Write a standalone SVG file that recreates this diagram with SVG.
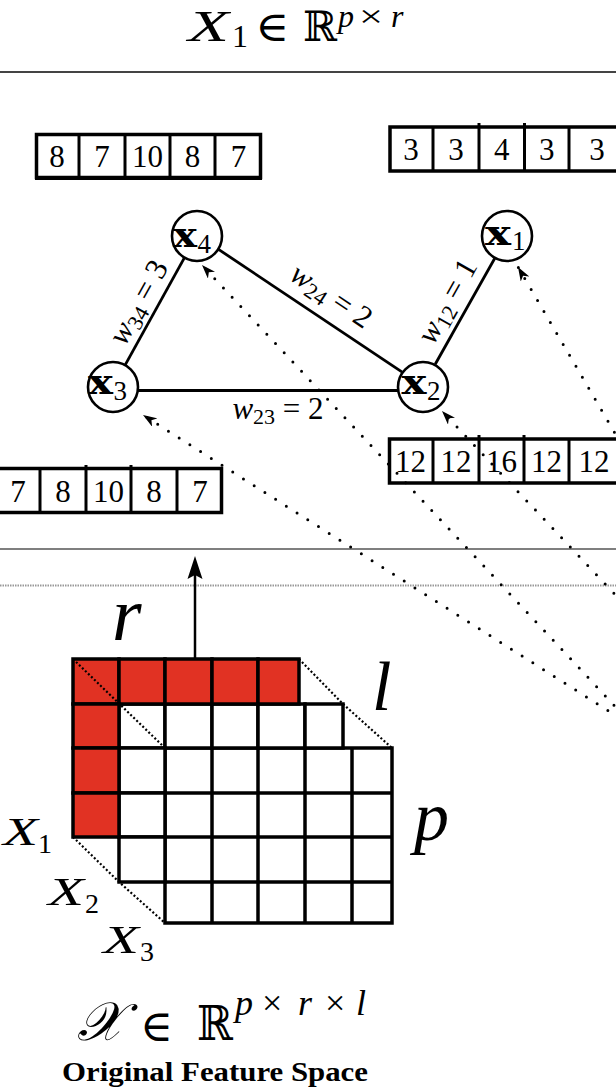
<svg xmlns="http://www.w3.org/2000/svg" width="616" height="1091" viewBox="0 0 616 1091">
<style>
text{font-family:"Liberation Serif","DejaVu Serif",serif;fill:#000}
.mi{font-style:italic}
.sym{font-family:"DejaVu Serif","Liberation Serif",serif}
.box{fill:#fff;stroke:#000;stroke-width:3.5}
.div{stroke:#000;stroke-width:3}
.num{font-size:31px;text-anchor:middle}
.node circle{fill:#fff;stroke:#000;stroke-width:2.6}
.nx{font-family:"DejaVu Serif",serif;font-weight:bold;font-size:34px}
.sub{font-family:"Liberation Serif",serif;font-size:27px}
.edge{stroke:#000;stroke-width:2.8;fill:none}
.dot{stroke:#000;stroke-width:3;stroke-linecap:round;stroke-dasharray:0 12.7;fill:none}
.wl{font-size:31px;text-anchor:middle}
.cell{stroke:#000;stroke-width:3.5}
.w{fill:#fff}
.r{fill:#e13223}
.tdot{stroke:#000;stroke-width:2.2;stroke-dasharray:2 2.2;fill:none}
</style>
<defs>
<marker id="ah" viewBox="0 0 14 10" refX="14" refY="5" markerWidth="14" markerHeight="10" markerUnits="userSpaceOnUse" orient="auto">
<path d="M0,0 L14,5 L0,10 L4,5 z" fill="#000"/>
</marker>
</defs>
<rect width="616" height="1091" fill="#fff"/>

<!-- title -->
<g id="title">
<text class="mi" x="188" y="41" font-size="45" textLength="41" lengthAdjust="spacingAndGlyphs">X</text>
<text x="232" y="47" font-size="32">1</text>
<text class="sym" x="255" y="41" font-size="42" textLength="34" lengthAdjust="spacingAndGlyphs">∈</text>
<text class="sym" x="303" y="41" font-size="42" textLength="34" lengthAdjust="spacingAndGlyphs">ℝ</text>
<text class="mi" x="338" y="27" font-size="32">p</text>
<text x="359" y="27" font-size="32" textLength="24" lengthAdjust="spacingAndGlyphs">×</text>
<text class="mi" x="391" y="27" font-size="32">r</text>
</g>

<!-- separators -->
<g id="separators">
<line x1="0" y1="72" x2="616" y2="72" stroke="#444" stroke-width="2"/>
<line x1="0" y1="549" x2="616" y2="549" stroke="#555" stroke-width="1.6"/>
<line x1="0" y1="585.5" x2="616" y2="585.5" stroke="#999" stroke-width="2" stroke-dasharray="1.5 1"/>
</g>

<!-- vectors -->
<g id="vecA">
<rect class="box" x="36.5" y="134.5" width="224" height="43"/>
<line x1="35" y1="178.5" x2="262" y2="178.5" stroke="#000" stroke-width="3"/>
<line class="div" x1="79" y1="134" x2="79" y2="178"/>
<line class="div" x1="125" y1="134" x2="125" y2="178"/>
<line class="div" x1="170" y1="134" x2="170" y2="178"/>
<line class="div" x1="215" y1="134" x2="215" y2="178"/>
<text class="num" x="57" y="167">8</text>
<text class="num" x="102" y="167">7</text>
<text class="num" x="147.5" y="167">10</text>
<text class="num" x="192.5" y="167">8</text>
<text class="num" x="238.5" y="167">7</text>
</g>
<g id="vecB">
<rect class="box" x="390" y="127" width="240" height="44"/>
<line class="div" x1="433" y1="127" x2="433" y2="171"/>
<line class="div" x1="479" y1="123" x2="479" y2="171"/>
<line class="div" x1="524.5" y1="123" x2="524.5" y2="171"/>
<line class="div" x1="569" y1="127" x2="569" y2="171"/>
<text class="num" x="411" y="160">3</text>
<text class="num" x="456" y="160">3</text>
<text class="num" x="501.7" y="160">4</text>
<text class="num" x="546.7" y="160">3</text>
<text class="num" x="597" y="160">3</text>
</g>
<g id="vecC">
<rect class="box" x="389.5" y="439" width="240" height="44"/>
<line class="div" x1="433" y1="439" x2="433" y2="483"/>
<line class="div" x1="479" y1="435" x2="479" y2="483"/>
<line class="div" x1="524" y1="435" x2="524" y2="483"/>
<line class="div" x1="569" y1="439" x2="569" y2="483"/>
<text class="num" x="410.5" y="472">12</text>
<text class="num" x="456" y="472">12</text>
<text class="num" x="501.5" y="472">16</text>
<text class="num" x="546.5" y="472">12</text>
<text class="num" x="594" y="472">12</text>
</g>
<g id="vecD">
<rect class="box" x="-10" y="468.5" width="231.5" height="44"/>
<line class="div" x1="40" y1="468.5" x2="40" y2="512.5"/>
<line class="div" x1="86" y1="465" x2="86" y2="512.5"/>
<line class="div" x1="131" y1="465" x2="131" y2="512.5"/>
<line class="div" x1="177" y1="468.5" x2="177" y2="512.5"/>
<text class="num" x="18" y="502">7</text>
<text class="num" x="63" y="502">8</text>
<text class="num" x="108.5" y="502">10</text>
<text class="num" x="154" y="502">8</text>
<text class="num" x="200" y="502">7</text>
</g>

<!-- connectors -->
<g id="connectors">
<line class="edge" x1="125.1" y1="365.1" x2="184.9" y2="256.9"/>
<line class="edge" x1="217.8" y1="248.9" x2="402.2" y2="372.1"/>
<line class="edge" x1="137" y1="390.5" x2="399" y2="390.5" stroke-width="4.5"/>
<line class="edge" x1="435.2" y1="364.2" x2="494.8" y2="258.2"/>
<text class="wl" transform="translate(147,307) rotate(-61)"><tspan class="mi">w</tspan><tspan font-size="22" dy="5">34</tspan><tspan dy="-5"> = 3</tspan></text>
<text class="wl" transform="translate(326,304) rotate(33.75)"><tspan class="mi">w</tspan><tspan font-size="22" dy="5">24</tspan><tspan dy="-5"> = 2</tspan></text>
<text class="wl" x="278" y="419"><tspan class="mi">w</tspan><tspan font-size="22" dy="5">23</tspan><tspan dy="-5"> = 2</tspan></text>
<text class="wl" transform="translate(455.7,306) rotate(-60.75)"><tspan class="mi">w</tspan><tspan font-size="22" dy="5">12</tspan><tspan dy="-5"> = 1</tspan></text>
<path class="dot" d="M640,733 L202,265" marker-end="url(#ah)"/>
<path class="dot" d="M640,731 L143,415" marker-end="url(#ah)"/>
<path class="dot" d="M640,621 L442,411" marker-end="url(#ah)"/>
<path class="dot" d="M640,476 L518,267" marker-end="url(#ah)"/>
</g>

<!-- nodes -->
<g id="x4" class="node"><circle cx="197" cy="236" r="25"/><text class="nx" x="173" y="246.5" textLength="24" lengthAdjust="spacingAndGlyphs">x</text><text class="sub" x="197.5" y="253">4</text></g>
<g id="x3" class="node"><circle cx="113" cy="387" r="25"/><text class="nx" x="88" y="393.5" textLength="25" lengthAdjust="spacingAndGlyphs">x</text><text class="sub" x="113.5" y="400">3</text></g>
<g id="x2" class="node"><circle cx="423" cy="387" r="25"/><text class="nx" x="401.5" y="393.5" textLength="25" lengthAdjust="spacingAndGlyphs">x</text><text class="sub" x="427" y="400">2</text></g>
<g id="x1" class="node"><circle cx="507" cy="236" r="25"/><text class="nx" x="485" y="245" textLength="26" lengthAdjust="spacingAndGlyphs">x</text><text class="sub" x="512" y="250">1</text></g>

<!-- tensor -->
<g id="tensor">
<g id="layerX3">
<rect class="w cell" x="165" y="748" width="227" height="175"/>
<line class="cell" x1="212" y1="748" x2="212" y2="923"/>
<line class="cell" x1="258" y1="748" x2="258" y2="923"/>
<line class="cell" x1="305" y1="748" x2="305" y2="923"/>
<line class="cell" x1="352" y1="748" x2="352" y2="923"/>
<line class="cell" x1="165" y1="793" x2="392" y2="793"/>
<line class="cell" x1="165" y1="837" x2="392" y2="837"/>
<line class="cell" x1="165" y1="882" x2="392" y2="882"/>
</g>
<g id="layerX2">
<rect class="w cell" x="119" y="704" width="46" height="44"/>
<rect class="w cell" x="165" y="704" width="47" height="44"/>
<rect class="w cell" x="212" y="704" width="46" height="44"/>
<rect class="w cell" x="258" y="704" width="47" height="44"/>
<rect class="w cell" x="305" y="704" width="38" height="44"/>
<rect class="w cell" x="119" y="748" width="46" height="45"/>
<rect class="w cell" x="119" y="793" width="46" height="44"/>
<rect class="w cell" x="119" y="837" width="46" height="45"/>
</g>
<g id="layerX1">
<rect class="r cell" x="73" y="659" width="46" height="45"/>
<rect class="r cell" x="119" y="659" width="46" height="45"/>
<rect class="r cell" x="165" y="659" width="47" height="45"/>
<rect class="r cell" x="212" y="659" width="46" height="45"/>
<rect class="r cell" x="258" y="659" width="41" height="45"/>
<rect class="r cell" x="73" y="704" width="46" height="44"/>
<rect class="r cell" x="73" y="748" width="46" height="45"/>
<rect class="r cell" x="73" y="793" width="46" height="44"/>
</g>
<path class="tdot" d="M73,659 L165,748"/>
<path class="tdot" d="M299,659 L343,704 L392,748"/>
<path class="tdot" d="M73,837 L119,882 L165,923"/>
<line x1="195" y1="659" x2="195" y2="574" stroke="#000" stroke-width="2.5"/>
<polygon points="195,556 187.5,579 195,575 202.5,579" fill="#000"/>
<text class="mi" x="112" y="640" font-size="76">r</text>
<text class="mi" x="372" y="710" font-size="70">l</text>
<text class="mi" x="414" y="840" font-size="70">p</text>
<text class="mi" x="3" y="845" font-size="40" textLength="35" lengthAdjust="spacingAndGlyphs">X</text>
<text x="38" y="853" font-size="28">1</text>
<text class="mi" x="48" y="905" font-size="40" textLength="36" lengthAdjust="spacingAndGlyphs">X</text>
<text x="85" y="913" font-size="28">2</text>
<text class="mi" x="103" y="953" font-size="40" textLength="36" lengthAdjust="spacingAndGlyphs">X</text>
<text x="140" y="961" font-size="28">3</text>
</g>

<!-- caption -->
<g id="caption">
<text class="sym" x="77" y="1040" font-size="54" font-style="italic">𝒳</text>
<text class="sym" x="140" y="1041" font-size="44" textLength="33" lengthAdjust="spacingAndGlyphs">∈</text>
<text class="sym" x="197" y="1040" font-size="48" textLength="36" lengthAdjust="spacingAndGlyphs">ℝ</text>
<text class="mi" x="235" y="1015" font-size="36">p</text>
<text x="262" y="1015" font-size="36">×</text>
<text class="mi" x="298" y="1015" font-size="36">r</text>
<text x="325" y="1015" font-size="36">×</text>
<text class="mi" x="356" y="1015" font-size="36">l</text>
<text x="62" y="1081" font-size="28" font-weight="bold" textLength="306" lengthAdjust="spacingAndGlyphs">Original Feature Space</text>
</g>
</svg>
